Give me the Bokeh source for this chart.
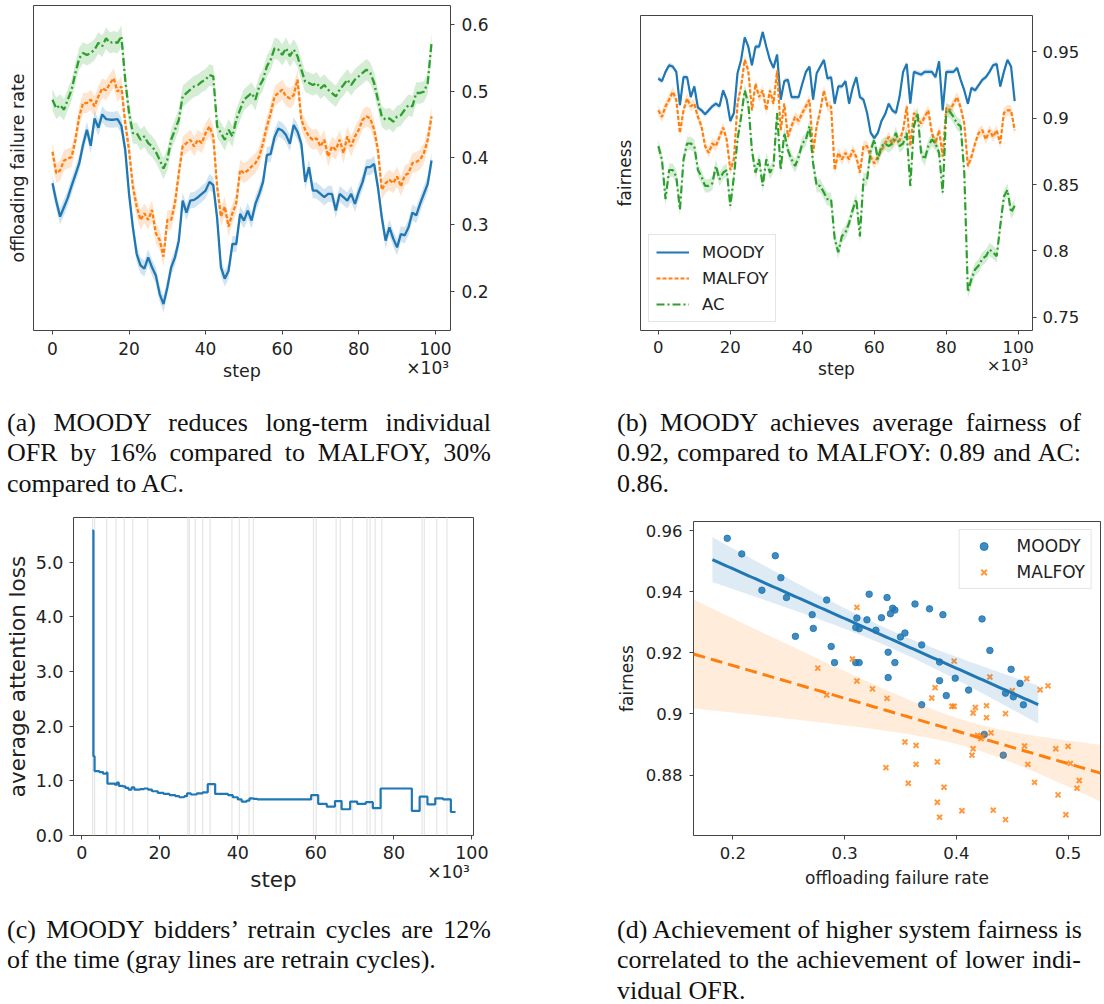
import numpy as np
from bokeh.plotting import figure
from bokeh.models import (LinearAxis, FixedTicker, Range1d, Legend, LegendItem, Div,
                          ColumnDataSource, NumeralTickFormatter, PrintfTickFormatter)
from bokeh.layouts import column, row
from bokeh.embed import file_html
from bokeh.resources import INLINE

# ---------------- data ----------------
step_k = list(range(100))  # training step (x 10^3)

ofr_moody = [0.362, 0.335, 0.312, 0.326, 0.340, 0.358, 0.375, 0.392, 0.420, 0.442,
             0.418, 0.459, 0.445, 0.465, 0.458, 0.457, 0.457, 0.458, 0.448, 0.412,
             0.346, 0.296, 0.256, 0.239, 0.234, 0.251, 0.236, 0.224, 0.196, 0.181,
             0.206, 0.236, 0.251, 0.276, 0.336, 0.318, 0.336, 0.337, 0.341, 0.346,
             0.351, 0.364, 0.359, 0.310, 0.236, 0.219, 0.231, 0.271, 0.271, 0.316,
             0.306, 0.321, 0.306, 0.331, 0.346, 0.364, 0.404, 0.406, 0.431, 0.444,
             0.441, 0.434, 0.421, 0.449, 0.439, 0.421, 0.364, 0.386, 0.351, 0.351,
             0.346, 0.341, 0.346, 0.346, 0.321, 0.346, 0.341, 0.336, 0.346, 0.331,
             0.349, 0.364, 0.386, 0.386, 0.391, 0.356, 0.311, 0.276, 0.296, 0.279,
             0.266, 0.286, 0.284, 0.296, 0.318, 0.314, 0.331, 0.346, 0.361, 0.396]
ofr_malfoy = [0.409, 0.377, 0.381, 0.396, 0.399, 0.401, 0.427, 0.462, 0.482, 0.482,
              0.487, 0.477, 0.492, 0.504, 0.501, 0.511, 0.519, 0.499, 0.507, 0.452,
              0.412, 0.357, 0.327, 0.307, 0.317, 0.307, 0.322, 0.287, 0.277, 0.252,
              0.307, 0.307, 0.332, 0.377, 0.417, 0.422, 0.427, 0.417, 0.427, 0.422,
              0.437, 0.447, 0.432, 0.357, 0.312, 0.327, 0.297, 0.317, 0.332, 0.382,
              0.377, 0.381, 0.387, 0.392, 0.402, 0.422, 0.447, 0.467, 0.492, 0.497,
              0.502, 0.492, 0.489, 0.494, 0.517, 0.457, 0.442, 0.432, 0.427, 0.429,
              0.417, 0.427, 0.402, 0.417, 0.412, 0.427, 0.407, 0.432, 0.417, 0.432,
              0.442, 0.457, 0.462, 0.459, 0.442, 0.412, 0.352, 0.362, 0.367, 0.362,
              0.372, 0.357, 0.374, 0.377, 0.392, 0.394, 0.397, 0.407, 0.427, 0.462]
ofr_ac = [0.487, 0.474, 0.479, 0.472, 0.487, 0.502, 0.527, 0.549, 0.557, 0.554,
          0.557, 0.562, 0.572, 0.567, 0.579, 0.572, 0.574, 0.572, 0.582, 0.517,
          0.467, 0.437, 0.437, 0.427, 0.432, 0.422, 0.417, 0.409, 0.397, 0.384,
          0.397, 0.427, 0.442, 0.457, 0.492, 0.497, 0.502, 0.507, 0.509, 0.514,
          0.517, 0.524, 0.522, 0.447, 0.437, 0.427, 0.442, 0.432, 0.457, 0.472,
          0.487, 0.492, 0.497, 0.487, 0.507, 0.517, 0.537, 0.547, 0.564, 0.562,
          0.554, 0.564, 0.552, 0.562, 0.552, 0.532, 0.514, 0.512, 0.509, 0.512,
          0.504, 0.509, 0.502, 0.497, 0.492, 0.502, 0.509, 0.517, 0.509, 0.517,
          0.522, 0.527, 0.532, 0.527, 0.512, 0.487, 0.462, 0.457, 0.459, 0.454,
          0.462, 0.464, 0.472, 0.479, 0.477, 0.497, 0.497, 0.499, 0.512, 0.572]
ofr_ci = [0.012, 0.015, 0.016]          # MOODY, MALFOY, AC half-width of band

fair_moody = [0.930, 0.928, 0.935, 0.940, 0.939, 0.935, 0.910, 0.931, 0.931, 0.916,
              0.924, 0.908, 0.906, 0.903, 0.906, 0.909, 0.911, 0.909, 0.921, 0.914,
              0.898, 0.904, 0.934, 0.944, 0.961, 0.954, 0.940, 0.954, 0.954, 0.965,
              0.954, 0.944, 0.938, 0.948, 0.914, 0.928, 0.929, 0.916, 0.916, 0.916,
              0.926, 0.935, 0.939, 0.914, 0.934, 0.939, 0.944, 0.930, 0.931, 0.911,
              0.924, 0.924, 0.928, 0.911, 0.923, 0.931, 0.916, 0.914, 0.904, 0.889,
              0.885, 0.889, 0.898, 0.903, 0.911, 0.906, 0.904, 0.916, 0.935, 0.941,
              0.911, 0.935, 0.934, 0.933, 0.935, 0.935, 0.935, 0.931, 0.943, 0.906,
              0.935, 0.935, 0.935, 0.938, 0.929, 0.921, 0.911, 0.923, 0.921, 0.925,
              0.929, 0.931, 0.935, 0.940, 0.941, 0.924, 0.935, 0.944, 0.939, 0.913]
fair_malfoy = [0.906, 0.901, 0.909, 0.914, 0.920, 0.914, 0.889, 0.906, 0.915, 0.909,
               0.911, 0.901, 0.894, 0.879, 0.874, 0.881, 0.879, 0.886, 0.893, 0.884,
               0.861, 0.869, 0.911, 0.924, 0.944, 0.936, 0.906, 0.926, 0.916, 0.921,
               0.906, 0.921, 0.911, 0.936, 0.891, 0.911, 0.886, 0.894, 0.901, 0.898,
               0.904, 0.909, 0.914, 0.874, 0.894, 0.906, 0.921, 0.909, 0.909, 0.861,
               0.874, 0.869, 0.874, 0.869, 0.876, 0.871, 0.859, 0.879, 0.879, 0.871,
               0.866, 0.871, 0.876, 0.881, 0.886, 0.881, 0.884, 0.883, 0.891, 0.909,
               0.879, 0.904, 0.901, 0.896, 0.901, 0.906, 0.889, 0.881, 0.891, 0.871,
               0.908, 0.906, 0.911, 0.916, 0.908, 0.896, 0.864, 0.871, 0.881, 0.889,
               0.891, 0.884, 0.891, 0.886, 0.891, 0.881, 0.904, 0.906, 0.906, 0.891]
fair_ac = [0.879, 0.869, 0.839, 0.861, 0.861, 0.856, 0.831, 0.869, 0.881, 0.881,
           0.879, 0.861, 0.856, 0.849, 0.849, 0.851, 0.864, 0.854, 0.859, 0.861,
           0.834, 0.856, 0.884, 0.901, 0.921, 0.911, 0.876, 0.859, 0.869, 0.849,
           0.869, 0.859, 0.864, 0.904, 0.861, 0.889, 0.876, 0.869, 0.864, 0.871,
           0.881, 0.884, 0.894, 0.866, 0.849, 0.849, 0.844, 0.839, 0.839, 0.809,
           0.799, 0.811, 0.814, 0.821, 0.831, 0.839, 0.811, 0.854, 0.854, 0.876,
           0.884, 0.869, 0.879, 0.881, 0.879, 0.881, 0.889, 0.879, 0.881, 0.889,
           0.849, 0.894, 0.904, 0.874, 0.869, 0.879, 0.884, 0.881, 0.874, 0.844,
           0.906, 0.905, 0.901, 0.896, 0.894, 0.859, 0.769, 0.779, 0.786, 0.789,
           0.794, 0.796, 0.801, 0.799, 0.796, 0.819, 0.841, 0.846, 0.829, 0.834]
fair_ci = [0.002, 0.004, 0.005]

loss_step_k = [2.7, 3.0, 3.3, 4.5, 5.5, 6.3, 6.6, 8.5, 9.0, 9.5,
               10.5, 11.2, 12.0, 12.8, 13.5, 15.0, 16.0, 17.0, 18.0, 19.5,
               21.0, 22.5, 24.0, 25.0, 26.3, 27.0, 28.0, 29.5, 31.0, 32.3,
               34.2, 36.0, 37.5, 38.7, 40.0, 41.0, 42.3, 43.0, 44.0, 45.0,
               58.8, 60.6, 62.8, 64.9, 66.6, 68.8, 70.6, 72.8, 74.6, 76.6,
               84.6, 86.6, 88.6, 90.6, 92.6, 94.6, 95.8]
loss_value = [5.58, 1.45, 1.18, 1.16, 1.13, 1.15, 0.95, 0.93, 0.97, 0.91,
              0.90, 0.87, 0.84, 0.88, 0.84, 0.85, 0.86, 0.84, 0.81, 0.78,
              0.76, 0.74, 0.72, 0.70, 0.72, 0.77, 0.75, 0.77, 0.79, 0.94,
              0.76, 0.76, 0.74, 0.70, 0.66, 0.62, 0.64, 0.68, 0.67, 0.66,
              0.74, 0.58, 0.53, 0.63, 0.48, 0.62, 0.58, 0.61, 0.50, 0.86,
              0.45, 0.71, 0.57, 0.68, 0.66, 0.43, 0.43]
retrain_step_k = [2.8, 3.3, 6.4, 8.8, 10.9, 13.1, 16.9, 27.2, 27.6, 29.1, 31.0, 32.9,
                  38.5, 40.4, 42.9, 44.0, 59.4, 60.1, 65.2, 66.3, 69.4, 73.1, 73.9,
                  75.2, 76.9, 87.2, 87.8, 91.0, 93.6]

moody_ofr = [0.195, 0.208, 0.238, 0.226, 0.243, 0.248, 0.256, 0.271, 0.272, 0.284,
             0.288, 0.291, 0.311, 0.310, 0.313, 0.310, 0.313, 0.320, 0.322, 0.328,
             0.333, 0.338, 0.339, 0.339, 0.341, 0.343, 0.345, 0.345, 0.350, 0.354,
             0.363, 0.369, 0.369, 0.376, 0.388, 0.385, 0.385, 0.391, 0.399, 0.411,
             0.423, 0.430, 0.425, 0.442, 0.444, 0.449, 0.451, 0.457, 0.460]
moody_fair = [0.9575, 0.9524, 0.9518, 0.9405, 0.9446, 0.9381, 0.9254, 0.9325, 0.9280, 0.9373,
              0.9221, 0.9168, 0.9314, 0.9283, 0.9279, 0.9168, 0.9168, 0.9308, 0.9392, 0.9274,
              0.9315, 0.9381, 0.9202, 0.9119, 0.9328, 0.9346, 0.9340, 0.9168, 0.9252, 0.9265,
              0.9360, 0.9226, 0.9030, 0.9344, 0.9325, 0.9170, 0.9109, 0.9060, 0.9117, 0.9078,
              0.9311, 0.9208, 0.8933, 0.8865, 0.9068, 0.9146, 0.9056, 0.9100, 0.9030]
malfoy_ofr = [0.311, 0.307, 0.276, 0.284, 0.311, 0.325, 0.338, 0.398, 0.430, 0.381,
              0.378, 0.396, 0.398, 0.415, 0.417, 0.427, 0.427, 0.444, 0.450, 0.463,
              0.475, 0.482, 0.419, 0.422, 0.423, 0.431, 0.415, 0.414, 0.354, 0.364,
              0.364, 0.337, 0.357, 0.383, 0.389, 0.383, 0.385, 0.405, 0.433, 0.444,
              0.461, 0.464, 0.470, 0.489, 0.500, 0.502, 0.491, 0.498, 0.508, 0.510]
malfoy_fair = [0.9349, 0.9180, 0.9150, 0.9062, 0.9108, 0.9082, 0.9051, 0.9173, 0.9121, 0.9086,
               0.9052, 0.9025, 0.9025, 0.9003, 0.9021, 0.9027, 0.8988, 0.9001, 0.9076, 0.9115,
               0.9079, 0.9092, 0.8930, 0.8919, 0.8926, 0.8938, 0.8886, 0.8865, 0.8908, 0.8897,
               0.8835, 0.8824, 0.8773, 0.8843, 0.8760, 0.8711, 0.8662, 0.8683, 0.8685, 0.8654,
               0.8895, 0.8835, 0.8776, 0.8886, 0.8894, 0.8838, 0.8735, 0.8670, 0.8757, 0.8782]

series_names = ["MOODY", "MALFOY", "AC"]
step_ticks = [0, 20, 40, 60, 80, 100]
ofr_ticks = [0.2, 0.3, 0.4, 0.5, 0.6]
fair_ticks = [0.75, 0.8, 0.85, 0.9, 0.95]
loss_ticks = [0, 1, 2, 3, 4, 5]
scatter_x_ticks = [0.2, 0.3, 0.4, 0.5]
scatter_y_ticks = [0.88, 0.9, 0.92, 0.94, 0.96]
step_multiplier = "\u00d710\u00b3"

captions = {
    "a": ["(a) MOODY reduces long-term individual",
          "OFR by 16% compared to MALFOY, 30%",
          "compared to AC."],
    "b": ["(b) MOODY achieves average fairness of",
          "0.92, compared to MALFOY: 0.89 and AC:",
          "0.86."],
    "c": ["(c) MOODY bidders\u2019 retrain cycles are 12%",
          "of the time (gray lines are retrain cycles)."],
    "d": ["(d) Achievement of higher system fairness is",
          "correlated to the achievement of lower indi-",
          "vidual OFR."],
}

# ---------------- style ----------------
BLUE, ORANGE, GREEN = "#1f77b4", "#ff7f0e", "#2ca02c"
COLORS = [BLUE, ORANGE, GREEN]
DASHES = ["solid", "4 2", "8 3 2 3"]
FONT = "DejaVu Sans"
INK = "#222222"
SPINE = "#444444"


def style(p, tick_size, label_size, label_standoff=6, axis_label_standoff=6):
    p.outline_line_color = SPINE
    p.outline_line_width = 1
    p.xgrid.visible = False
    p.ygrid.visible = False
    for ax in p.axis:
        ax.axis_line_color = None
        ax.major_tick_line_color = SPINE
        ax.major_tick_out = 4
        ax.major_tick_in = 0
        ax.minor_tick_line_color = None
        ax.major_label_text_font = FONT
        ax.major_label_text_font_size = tick_size
        ax.major_label_text_color = INK
        ax.major_label_standoff = label_standoff
        ax.axis_label_text_font = FONT
        ax.axis_label_text_font_size = label_size
        ax.axis_label_text_font_style = "normal"
        ax.axis_label_text_color = INK
        ax.axis_label_standoff = axis_label_standoff


def label_only_axis(text):
    return LinearAxis(ticker=FixedTicker(ticks=[]), axis_label=text)


def step_label_axis(p, tick_pos, mult_size, label_size, standoff):
    # second bottom axis: "step" centred, "x10^3" multiplier at the right end, on one line
    ax = LinearAxis(ticker=FixedTicker(ticks=[tick_pos]), formatter=PrintfTickFormatter(format=step_multiplier),
                    axis_label="step")
    ax.axis_line_color = None
    ax.major_tick_line_color = None
    ax.major_tick_out = 0
    ax.major_tick_in = 0
    ax.minor_tick_line_color = None
    ax.major_label_standoff = 0
    ax.major_label_text_font = FONT
    ax.major_label_text_font_size = mult_size
    ax.major_label_text_color = INK
    ax.axis_label_text_font = FONT
    ax.axis_label_text_font_size = label_size
    ax.axis_label_text_font_style = "normal"
    ax.axis_label_text_color = INK
    ax.axis_label_standoff = standoff
    p.add_layout(ax, "below")


def fit_band(x, y, xs):
    x = np.asarray(x, dtype=float)
    y = np.asarray(y, dtype=float)
    n = len(x)
    b1, b0 = np.polyfit(x, y, 1)
    resid = y - (b0 + b1 * x)
    s = np.sqrt((resid ** 2).sum() / (n - 2))
    xm = x.mean()
    sxx = ((x - xm) ** 2).sum()
    fit = b0 + b1 * xs
    half = 2.01 * s * np.sqrt(1.0 / n + (xs - xm) ** 2 / sxx)
    return fit, fit - half, fit + half


# ---------------- (a) OFR over time ----------------
pa = figure(width=545, height=390, x_range=Range1d(-4.95, 103.95), y_range=Range1d(0.1415, 0.628),
            y_axis_location="right", output_backend="svg", toolbar_location=None, title=None,
            min_border_left=33, min_border_right=95, min_border_top=5, min_border_bottom=60)
pa.add_layout(label_only_axis("offloading failure rate"), "left")
for vals, col, dash, ci in zip([ofr_moody, ofr_malfoy, ofr_ac], COLORS, DASHES, ofr_ci):
    src = ColumnDataSource(dict(x=step_k, y=vals, lo=[v - ci for v in vals], hi=[v + ci for v in vals]))
    pa.varea(x="x", y1="lo", y2="hi", source=src, fill_color=col, fill_alpha=0.2)
    pa.line(x="x", y="y", source=src, line_color=col, line_width=2.3, line_dash=dash)
pa.xaxis.ticker = FixedTicker(ticks=step_ticks)
pa.right[0].ticker = FixedTicker(ticks=ofr_ticks)
pa.right[0].formatter = NumeralTickFormatter(format="0.0[0]")
style(pa, "17px", "17.5px", label_standoff=7, axis_label_standoff=4)
pa.left[0].major_tick_out = 0
pa.left[0].major_label_standoff = 0
pa.left[0].axis_label_standoff = 6
step_label_axis(pa, 98, "17px", "17.5px", -20)

# ---------------- (b) fairness over time ----------------
pb = figure(width=557, height=380, x_range=Range1d(-4.95, 103.95), y_range=Range1d(0.74, 0.9775),
            y_axis_location="right", output_backend="svg", toolbar_location=None, title=None,
            margin=(10, 0, 0, 0),
            min_border_left=95, min_border_right=70, min_border_top=5, min_border_bottom=60)
pb.add_layout(label_only_axis("fairness"), "left")
items_b = []
for vals, col, dash, ci, name in zip([fair_moody, fair_malfoy, fair_ac], COLORS, DASHES, fair_ci, series_names):
    src = ColumnDataSource(dict(x=step_k, y=vals, lo=[v - ci for v in vals], hi=[v + ci for v in vals]))
    pb.varea(x="x", y1="lo", y2="hi", source=src, fill_color=col, fill_alpha=0.2)
    r = pb.line(x="x", y="y", source=src, line_color=col, line_width=2.2, line_dash=dash)
    items_b.append(LegendItem(label=name, renderers=[r]))
pb.xaxis.ticker = FixedTicker(ticks=step_ticks)
pb.right[0].ticker = FixedTicker(ticks=fair_ticks)
pb.right[0].formatter = NumeralTickFormatter(format="0.0[0]")
style(pb, "16.5px", "17px", label_standoff=6, axis_label_standoff=4)
pb.left[0].major_tick_out = 0
pb.left[0].major_label_standoff = 0
pb.left[0].axis_label_standoff = 6
leg_b = Legend(items=items_b, location="bottom_left", margin=8, padding=7, spacing=6,
               label_text_font=FONT, label_text_font_size="16.5px", label_text_color=INK,
               glyph_width=33, glyph_height=20, label_height=20, label_standoff=13,
               border_line_color="#cccccc", border_line_width=1, background_fill_alpha=0.85)
pb.add_layout(leg_b)
step_label_axis(pb, 97, "16.5px", "17px", -19)

# ---------------- (c) attention loss ----------------
pc = figure(width=545, height=395, x_range=Range1d(-2.1, 100.4), y_range=Range1d(0, 5.82),
            output_backend="svg", toolbar_location=None, title=None,
            min_border_left=73, min_border_right=72, min_border_top=12, min_border_bottom=65)
pc.segment(x0=retrain_step_k, y0=[0] * len(retrain_step_k), x1=retrain_step_k, y1=[10] * len(retrain_step_k),
           line_color="#dddddd", line_width=1.3, line_alpha=0.7)
pc.step(x=loss_step_k, y=loss_value, mode="after", line_color=BLUE, line_width=2.2)
pc.xaxis.ticker = FixedTicker(ticks=step_ticks)
pc.yaxis.ticker = FixedTicker(ticks=loss_ticks)
pc.yaxis.formatter = NumeralTickFormatter(format="0.0")
pc.yaxis.axis_label = "average attention loss"
style(pc, "17.5px", "21.5px", label_standoff=6, axis_label_standoff=3)
step_label_axis(pc, 94, "17px", "21.5px", -18)

# ---------------- (d) fairness vs OFR ----------------
xr_d = Range1d(0.1648, 0.529)
pd_ = figure(width=557, height=391, x_range=xr_d, y_range=Range1d(0.8602, 0.963),
             output_backend="svg", toolbar_location=None, title=None,
             margin=(4, 0, 0, 0),
             min_border_left=148, min_border_right=2, min_border_top=12, min_border_bottom=62)
mx0, mx1 = min(moody_ofr), max(moody_ofr)
xs_m = np.linspace(mx0 - 0.05 * (mx1 - mx0), mx1 + 0.05 * (mx1 - mx0), 100)
fm, lm, hm = fit_band(moody_ofr, moody_fair, xs_m)
xs_f = np.linspace(xr_d.start, xr_d.end, 100)
ff, lf, hf = fit_band(malfoy_ofr, malfoy_fair, xs_f)
r_m = pd_.scatter(moody_ofr, moody_fair, marker="circle", size=6.5, fill_color=BLUE, line_color=BLUE,
                  fill_alpha=0.85, line_alpha=0.85)
r_f = pd_.scatter(malfoy_ofr, malfoy_fair, marker="x", size=7, line_color=ORANGE, line_width=2, line_alpha=0.8)
pd_.varea(x=xs_m, y1=lm, y2=hm, fill_color=BLUE, fill_alpha=0.15)
pd_.line(xs_m, fm, line_color=BLUE, line_width=3)
pd_.varea(x=xs_f, y1=lf, y2=hf, fill_color=ORANGE, fill_alpha=0.15)
pd_.line(xs_f, ff, line_color=ORANGE, line_width=3, line_dash="12 6")
pd_.xaxis.ticker = FixedTicker(ticks=scatter_x_ticks)
pd_.yaxis.ticker = FixedTicker(ticks=scatter_y_ticks)
pd_.xaxis.formatter = NumeralTickFormatter(format="0.0[0]")
pd_.yaxis.formatter = NumeralTickFormatter(format="0.0[0]")
pd_.xaxis.axis_label = "offloading failure rate"
pd_.yaxis.axis_label = "fairness"
style(pd_, "16.5px", "17px", label_standoff=7, axis_label_standoff=6)
leg_d = Legend(items=[LegendItem(label="MOODY", renderers=[r_m]), LegendItem(label="MALFOY", renderers=[r_f])],
               location="top_right", margin=8, padding=6, spacing=6,
               label_text_font=FONT, label_text_font_size="17px", label_text_color=INK,
               glyph_width=36, glyph_height=20, label_height=20, label_standoff=15,
               border_line_color="#cccccc", border_line_width=1, background_fill_alpha=0.85)
pd_.add_layout(leg_d)


# ---------------- captions ----------------
def caption_div(lines, left, width, top, total_w, total_h):
    parts = []
    for i, ln in enumerate(lines):
        al = "justify" if i < len(lines) - 1 else "left"
        parts.append('<div style="text-align:%s;text-align-last:%s;white-space:nowrap;">%s</div>' % (al, al, ln))
    html = ('<div style="margin-left:%dpx;padding-top:%dpx;width:%dpx;font-family:\'Liberation Serif\';'
            'font-size:26px;line-height:30.3px;color:#111111;">%s</div>') % (left, top, width, "".join(parts))
    return Div(text=html, width=total_w, height=total_h, margin=(0, 0, 0, 0))


div_a = caption_div(captions["a"], 7, 484, 18, 545, 115)
div_b = caption_div(captions["b"], 72, 464, 18, 557, 115)
div_c = caption_div(captions["c"], 7, 484, 15, 545, 104)
div_d = caption_div(captions["d"], 72, 464, 15, 557, 104)

layout = column(row(pa, pb), row(div_a, div_b), row(pc, pd_), row(div_c, div_d))
open("out.html", "w").write(file_html(layout, INLINE))
